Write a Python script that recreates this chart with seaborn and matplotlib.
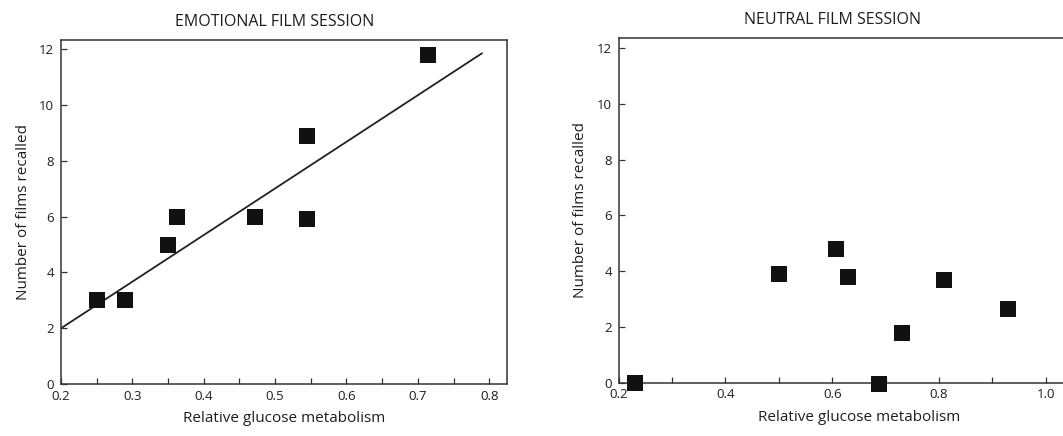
import numpy as np
import pandas as pd
import matplotlib
matplotlib.use("Agg")
import matplotlib.pyplot as plt
from matplotlib.ticker import MultipleLocator
import seaborn as sns

# emotional film session
emo_glucose = [0.25, 0.29, 0.35, 0.363, 0.472, 0.545, 0.544, 0.714]
emo_recalled = [3.0, 3.0, 5.0, 6.0, 6.0, 8.9, 5.9, 11.8]
# fitted line as drawn in the figure
fit_glucose = [0.2, 0.79]
fit_recalled = [2.0, 11.85]

# neutral film session
neu_glucose = [0.23, 0.50, 0.608, 0.63, 0.687, 0.731, 0.81, 0.93]
neu_recalled = [0.0, 3.9, 4.8, 3.8, -0.05, 1.8, 3.7, 2.65]

titles = ["EMOTIONAL FILM SESSION", "NEUTRAL FILM SESSION"]
xlabel = "Relative glucose metabolism"
ylabel = "Number of films recalled"

sns.set_theme(style="ticks")
plt.rcParams["font.family"] = ["Open Sans", "DejaVu Sans"]

ink = "#1e1e1e"
fig = plt.figure(figsize=(10.63, 4.36), dpi=100)
ax1 = fig.add_axes([0.0574, 0.119, 0.4196, 0.789])
ax2 = fig.add_axes([0.582, 0.122, 0.452, 0.791])


def style_axis(ax, title, tx):
    for s in ax.spines.values():
        s.set_color("#333333")
        s.set_linewidth(1.1)
    ax.tick_params(axis="both", which="both", direction="in", length=4,
                   width=0.9, color="#333333", labelsize=9.5, labelcolor=ink)
    ax.tick_params(axis="x", pad=4)
    ax.tick_params(axis="y", pad=5)
    ax.set_title(title, fontsize=11.5, color=ink, pad=10, x=tx)
    ax.set_xlabel(xlabel, fontsize=11, color=ink, labelpad=6)
    ax.set_ylabel(ylabel, fontsize=11, color=ink, labelpad=6)
    ax.yaxis.set_major_locator(MultipleLocator(2))


# ---- emotional panel ----
emo_df = pd.DataFrame({"glucose": emo_glucose, "recalled": emo_recalled})
sns.scatterplot(data=emo_df, x="glucose", y="recalled", ax=ax1, marker="s",
                s=125, color="#111111", edgecolor="#111111", linewidth=0, clip_on=False, zorder=3)
sns.lineplot(x=fit_glucose, y=fit_recalled, ax=ax1, color="#222222", lw=1.3)
ax1.set_xlim(0.2, 0.825)
ax1.set_ylim(0, 12.32)
ax1.xaxis.set_major_locator(MultipleLocator(0.1))
ax1.xaxis.set_minor_locator(MultipleLocator(0.05))
style_axis(ax1, titles[0], 0.48)
ax1.set_xticklabels([f"{v:.1f}" for v in ax1.get_xticks()])

# ---- neutral panel ----
neu_df = pd.DataFrame({"glucose": neu_glucose, "recalled": neu_recalled})
sns.scatterplot(data=neu_df, x="glucose", y="recalled", ax=ax2, marker="s",
                s=130, color="#111111", edgecolor="#111111", linewidth=0, clip_on=False, zorder=3)
ax2.set_xlim(0.2, 1.1)
ax2.set_ylim(0, 12.36)
ax2.xaxis.set_major_locator(MultipleLocator(0.2))
ax2.xaxis.set_minor_locator(MultipleLocator(0.1))
style_axis(ax2, titles[1], 0.446)
ax2.set_xticklabels([f"{v:.1f}" for v in ax2.get_xticks()])

fig.savefig("out.png", dpi=100)
